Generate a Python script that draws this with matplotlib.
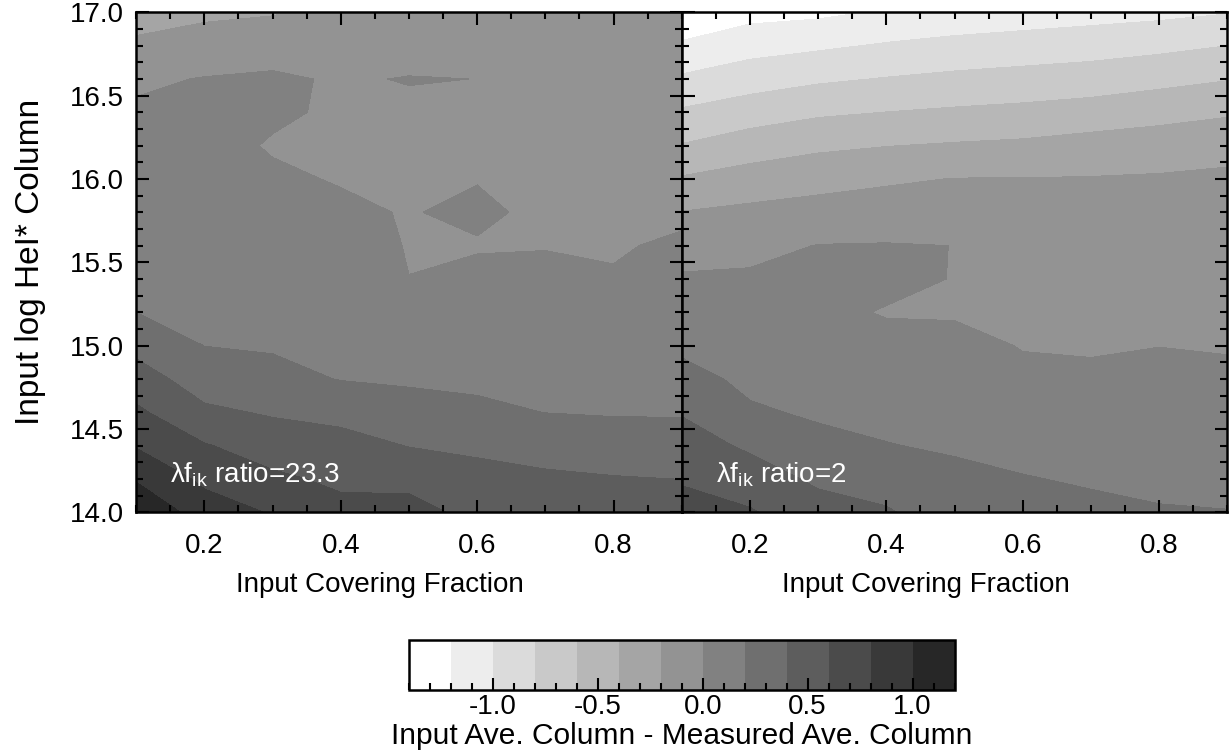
import numpy as np
import matplotlib
matplotlib.use('Agg')
import matplotlib.pyplot as plt
from matplotlib.ticker import MultipleLocator

plt.rcParams['font.family'] = ['Liberation Sans', 'DejaVu Sans']
plt.rcParams['mathtext.fontset'] = 'custom'
plt.rcParams['mathtext.rm'] = 'Liberation Sans'
plt.rcParams['axes.unicode_minus'] = False

# grid of input covering fraction and input log column
cover = [0.1, 0.2, 0.3, 0.4, 0.5, 0.6, 0.7, 0.8, 0.9]
logcol = [14.0, 14.2, 14.4, 14.6, 14.8, 15.0, 15.2, 15.4,
          15.6, 15.8, 16.0, 16.2, 16.4, 16.6, 16.8, 17.0]

# input - measured average column, one row per covering fraction (14.0 -> 17.0)
diff_r23 = [
    [1.18, 0.98, 0.785, 0.637, 0.489, 0.343, 0.199, 0.17, 0.14, 0.11, 0.085, 0.055, 0.03, -0.035, -0.17, -0.27],
    [0.90, 0.757, 0.614, 0.436, 0.306, 0.198, 0.173, 0.148, 0.123, 0.099, 0.074, 0.049, 0.025, 0.01, -0.14, -0.226],
    [0.785, 0.637, 0.506, 0.381, 0.256, 0.182, 0.150, 0.118, 0.086, 0.054, 0.022, -0.012, 0.022, 0.05, -0.15, -0.206],
    [0.657, 0.562, 0.467, 0.345, 0.193, 0.16, 0.126, 0.093, 0.059, 0.026, -0.009, -0.02, -0.021, -0.033, -0.12, -0.18],
    [0.679, 0.536, 0.394, 0.273, 0.176, 0.118, 0.059, 0.001, -0.0066, -0.0086, -0.02, -0.04, -0.062, 0.0155, -0.15, -0.17],
    [0.533, 0.457, 0.367, 0.233, 0.168, 0.126, 0.084, 0.041, -0.0136, 0.0334, -0.0073, -0.03, -0.04, -0.0021, -0.12, -0.16],
    [0.52, 0.436, 0.315, 0.198, 0.157, 0.116, 0.075, 0.035, -0.006, -0.038, -0.06, -0.07, -0.08, -0.09, -0.12, -0.15],
    [0.53, 0.4125, 0.2875, 0.187, 0.145, 0.103, 0.061, 0.019, -0.023, -0.06, -0.07, -0.08, -0.09, -0.1, -0.12, -0.14],
    [0.52, 0.398, 0.271, 0.187, 0.157, 0.127, 0.098, 0.068, 0.039, -0.048, -0.07, -0.08, -0.09, -0.1, -0.11, -0.13],
]

diff_r2 = [
    [0.676, 0.581, 0.486, 0.3875, 0.2625, 0.164, 0.093, 0.021, -0.08, -0.194, -0.381, -0.589, -0.773, -0.97, -1.17, -1.37],
    [0.618, 0.497, 0.37, 0.222, 0.161, 0.116, 0.07, 0.025, -0.049, -0.157, -0.314, -0.5, -0.695, -0.891, -1.076, -1.267],
    [0.482, 0.365, 0.247, 0.178, 0.142, 0.106, 0.07, 0.034, 0.005, -0.127, -0.267, -0.438, -0.63, -0.83, -1.032, -1.242],
    [0.42, 0.3135, 0.205, 0.164, 0.127, 0.09, -0.0197, 0.0788, 0.01, -0.108, -0.226, -0.405, -0.598, -0.79, -0.981, -1.18],
    [0.287, 0.2327, 0.184, 0.142, 0.101, 0.06, -0.02, -0.0107, -0.001, -0.098, -0.195, -0.381, -0.571, -0.755, -0.943, -1.133],
    [0.264, 0.208, 0.153, 0.097, 0.042, -0.009, -0.046, -0.083, -0.12, -0.157, -0.194, -0.362, -0.549, -0.729, -0.914, -1.105],
    [0.236, 0.184, 0.132, 0.081, 0.029, -0.016, -0.05, -0.085, -0.12, -0.155, -0.19, -0.322, -0.516, -0.704, -0.886, -1.076],
    [0.211, 0.168, 0.126, 0.083, 0.04, -0.002, -0.038, -0.074, -0.11, -0.146, -0.182, -0.291, -0.473, -0.657, -0.85, -1.05],
    [0.204, 0.16, 0.116, 0.073, 0.029, -0.011, -0.044, -0.077, -0.11, -0.143, -0.175, -0.245, -0.427, -0.61, -0.801, -1.01],
]

levels = [-1.4, -1.2, -1.0, -0.8, -0.6, -0.4, -0.2, 0.0, 0.2, 0.4, 0.6, 0.8, 1.0, 1.2]
grays = ['#ffffff', '#ededed', '#dbdbdb', '#c9c9c9', '#b7b7b7', '#a5a5a5', '#939393',
         '#818181', '#6f6f6f', '#5d5d5d', '#4b4b4b', '#393939', '#272727']

panel_labels = ['λf$_{\\mathregular{ik}}$ ratio=23.3', 'λf$_{\\mathregular{ik}}$ ratio=2']

fig = plt.figure(figsize=(12.29, 7.54), dpi=100)
ax1 = fig.add_axes([0.1108, 0.3206, 0.4439, 0.6631])
ax2 = fig.add_axes([0.5547, 0.3206, 0.4439, 0.6631])

for ax, diff, lab in zip([ax1, ax2], [diff_r23, diff_r2], panel_labels):
    z = np.array(diff).T
    cs = ax.contourf(cover, logcol, z, levels=levels, colors=grays)
    ax.set_xlim(0.1, 0.9)
    ax.set_ylim(14.0, 17.0)
    ax.xaxis.set_major_locator(MultipleLocator(0.2))
    ax.xaxis.set_minor_locator(MultipleLocator(0.05))
    ax.yaxis.set_major_locator(MultipleLocator(0.5))
    ax.yaxis.set_minor_locator(MultipleLocator(0.1))
    ax.tick_params(which='both', direction='in', top=True, right=True,
                   width=1.5, labelsize=20)
    ax.tick_params(which='major', length=9)
    ax.tick_params(which='minor', length=5)
    ax.tick_params(axis='x', pad=15)
    ax.tick_params(axis='y', pad=9)
    for sp in ax.spines.values():
        sp.set_linewidth(1.8)
    ax.set_xlabel('Input Covering Fraction', fontsize=20)
    ax.xaxis.set_label_coords(0.447, -0.12)
    ax.text(0.15, 14.18, lab, color='white', fontsize=20)

ax2.tick_params(axis='y', labelleft=False)
ax1.set_ylabel('Input log HeI* Column', fontsize=24)
ax1.yaxis.set_label_coords(-0.165, 0.5)

cax = fig.add_axes([0.3328, 0.0848, 0.4439, 0.0663])
cb = fig.colorbar(cs, cax=cax, orientation='horizontal')
cb.set_ticks([-1.0, -0.5, 0.0, 0.5, 1.0])
cax.xaxis.set_minor_locator(MultipleLocator(0.1))
cax.tick_params(which='both', direction='in', bottom=True, top=False,
                width=1.5, labelsize=20, pad=3)
cax.tick_params(which='major', length=9)
cax.tick_params(which='minor', length=5)
cb.outline.set_linewidth(1.8)
cb.set_label('Input Ave. Column - Measured Ave. Column', fontsize=21.5, labelpad=1)

fig.savefig('out.png', dpi=100)
